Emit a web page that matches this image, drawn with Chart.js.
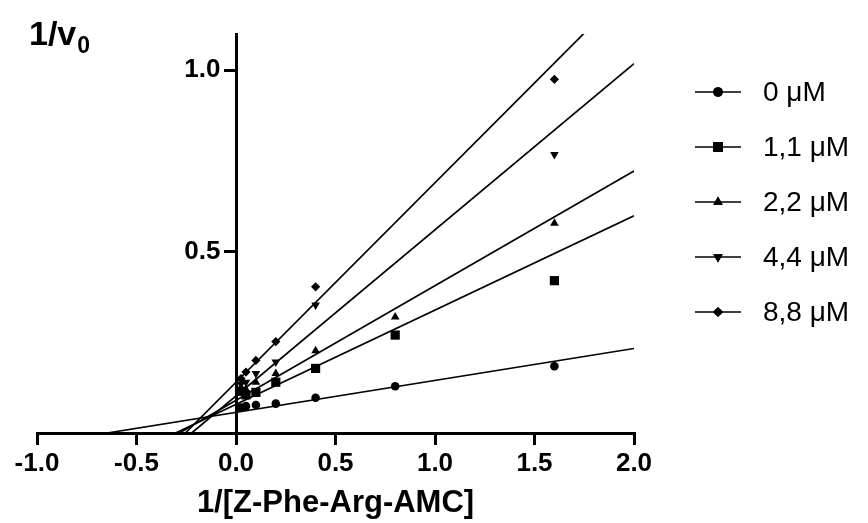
<!DOCTYPE html>
<html>
<head>
<meta charset="utf-8">
<title>Lineweaver-Burk plot</title>
<script src="https://cdn.jsdelivr.net/npm/chart.js@4.4.1/dist/chart.umd.min.js"></script>
<style>
  html, body { margin: 0; padding: 0; background: #fff; }
  #wrap { width: 868px; height: 523px; }
</style>
</head>
<body>
<div id="wrap"><canvas id="lb" width="868" height="523"></canvas></div>
<script>
// 1/[S] values (x) shared by every inhibitor series
const invSubstrate = [0.025, 0.05, 0.1, 0.2, 0.4, 0.8, 1.6];

// Inhibitor concentrations (legend labels)
const seriesLabels = ['0 \u03BCM', '1,1 \u03BCM', '2,2 \u03BCM', '4,4 \u03BCM', '8,8 \u03BCM'];

// Measured 1/v0 for each inhibitor concentration
const inv0uM   = [0.070, 0.074, 0.077, 0.081, 0.097, 0.129, 0.184];
const inv1_1uM = [0.115, 0.105, 0.112, 0.140, 0.178, 0.270, 0.420];
const inv2_2uM = [0.125, 0.120, 0.140, 0.164, 0.227, 0.320, 0.578];
const inv4_4uM = [0.135, 0.140, 0.164, 0.196, 0.353, null, 0.768];
const inv8_8uM = [0.150, 0.168, 0.200, 0.252, 0.403, null, 0.975];

// Linear-regression fits (slope, y-intercept) for each series
const fitSlopes     = [0.088, 0.260, 0.316, 0.458, 0.550];
const fitIntercepts = [0.057, 0.079, 0.090, 0.102, 0.140];

// Axis ranges and tick values
const xRange = [-1.0, 2.0];
const xStep = 0.5;
const yRange = [0, 1.1];
const yTickValues = [0.5, 1.0];

const seriesValues = [inv0uM, inv1_1uM, inv2_2uM, inv4_4uM, inv8_8uM];

// marker styling per series: circle, square, triangle, inverted triangle, diamond
const markerStyles = [
  { pointStyle: 'circle',   radius: 4.3, rotation: 0 },
  { pointStyle: 'rect',     radius: 6.5, rotation: 0 },
  { pointStyle: 'triangle', radius: 5.0, rotation: 0 },
  { pointStyle: 'triangle', radius: 5.0, rotation: 180 },
  { pointStyle: 'rectRot',  radius: 4.6, rotation: 0 }
];

const FONT = "'Liberation Sans', Arial, Helvetica, sans-serif";
const Y_TICK_LEN = 11;
const Y_TICK_PAD = 3;

const datasets = [];
seriesValues.forEach((vals, i) => {
  const m = fitSlopes[i], b = fitIntercepts[i];
  // fitted line from its x-intercept to the right end of the axis
  datasets.push({
    type: 'line',
    label: seriesLabels[i] + ' fit',
    data: [{ x: -b / m, y: 0 }, { x: xRange[1], y: b + m * xRange[1] }],
    borderColor: '#000',
    borderWidth: 1.7,
    pointRadius: 0,
    fill: false,
    order: 2
  });
  datasets.push({
    type: 'scatter',
    label: seriesLabels[i],
    data: invSubstrate.map((x, k) => ({ x: x, y: vals[k] })).filter(p => p.y !== null),
    pointStyle: markerStyles[i].pointStyle,
    pointRadius: markerStyles[i].radius,
    pointRotation: markerStyles[i].rotation,
    backgroundColor: '#000',
    borderColor: '#000',
    borderWidth: 0,
    order: 1
  });
});

// the y axis sits at x = 0, so move its labels left of the tick marks
const yLabelOffset = {
  id: 'yLabelOffset',
  beforeDraw(chart) {
    const items = chart.scales.y.getLabelItems();
    if (!items._shifted) {
      items.forEach(it => { it.options.translation[0] -= (Y_TICK_LEN + 1.5 + Y_TICK_PAD); });
      items._shifted = true;
    }
  }
};

// axis titles and legend, drawn on the canvas next to the plot
const annotations = {
  id: 'annotations',
  afterDraw(chart) {
    const ctx = chart.ctx;
    const area = chart.chartArea;
    ctx.save();
    ctx.fillStyle = '#000';

    // y axis title: 1/v0 with subscript
    ctx.textBaseline = 'alphabetic';
    ctx.textAlign = 'left';
    ctx.font = 'bold 34px ' + FONT;
    ctx.fillText('1/v', 29, 45);
    const w = ctx.measureText('1/v').width;
    ctx.font = 'bold 23px ' + FONT;
    ctx.fillText('0', 29 + w + 1, 53);

    // x axis title centred under the axis
    ctx.font = 'bold 31px ' + FONT;
    ctx.textAlign = 'center';
    ctx.textBaseline = 'middle';
    ctx.fillText('1/[Z-Phe-Arg-AMC]', (area.left + area.right) / 2, 503);

    // legend
    const legendY0 = 92, legendGap = 55;
    seriesLabels.forEach((label, i) => {
      const y = legendY0 + i * legendGap;
      ctx.strokeStyle = '#000';
      ctx.lineWidth = 1.7;
      ctx.beginPath();
      ctx.moveTo(695, y);
      ctx.lineTo(741, y);
      ctx.stroke();
      Chart.helpers.drawPoint(ctx, {
        pointStyle: markerStyles[i].pointStyle,
        radius: markerStyles[i].radius + 0.5,
        rotation: markerStyles[i].rotation,
        borderWidth: 0
      }, 718, y);
      ctx.fillStyle = '#000';
      ctx.fill();
      ctx.font = '28px ' + FONT;
      ctx.textAlign = 'left';
      ctx.textBaseline = 'middle';
      ctx.fillText(label, 763, y + 1);
    });
    ctx.restore();
  }
};

new Chart(document.getElementById('lb'), {
  data: { datasets: datasets },
  options: {
    responsive: false,
    animation: false,
    layout: { padding: { left: 37, right: 234, top: 34, bottom: 90 } },
    plugins: {
      legend: { display: false },
      tooltip: { enabled: false }
    },
    scales: {
      x: {
        type: 'linear',
        position: { y: 0 },
        min: xRange[0],
        max: xRange[1],
        ticks: {
          stepSize: xStep,
          color: '#000',
          font: { family: FONT, size: 26, weight: 'bold' },
          padding: 5,
          maxRotation: 0,
          callback: v => v.toFixed(1)
        },
        grid: { drawOnChartArea: false, drawTicks: true, tickLength: 10, lineWidth: 3, color: '#000' },
        border: { display: true, width: 3, color: '#000' }
      },
      y: {
        type: 'linear',
        position: { x: 0 },
        min: yRange[0],
        max: yRange[1],
        afterBuildTicks: scale => { scale.ticks = yTickValues.map(v => ({ value: v })); },
        ticks: {
          color: '#000',
          font: { family: FONT, size: 26, weight: 'bold' },
          padding: Y_TICK_PAD,
          callback: v => v.toFixed(1)
        },
        grid: { drawOnChartArea: false, drawTicks: true, tickLength: Y_TICK_LEN, lineWidth: 3, color: '#000' },
        border: { display: true, width: 3, color: '#000' }
      }
    }
  },
  plugins: [yLabelOffset, annotations]
});
</script>
</body>
</html>
